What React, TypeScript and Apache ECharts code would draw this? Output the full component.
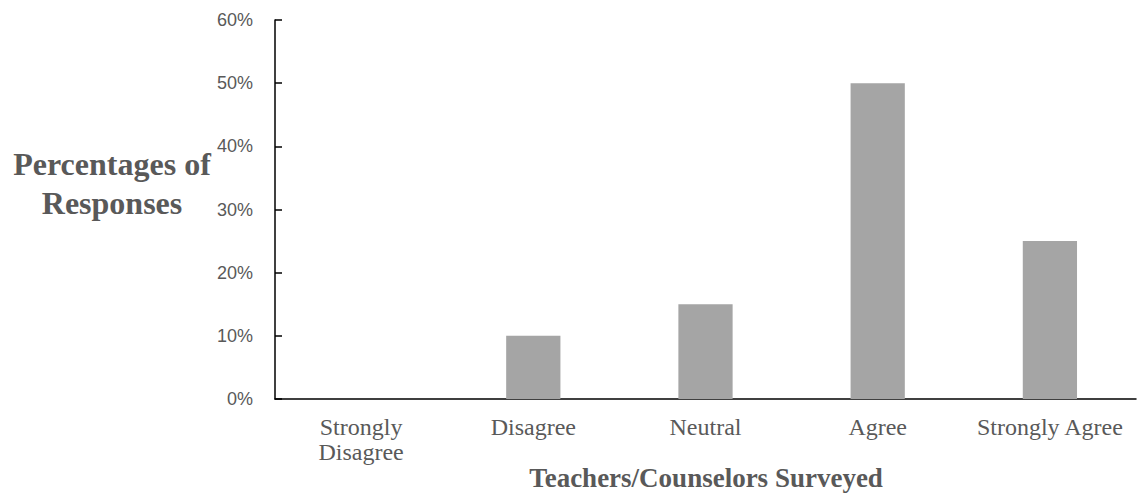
import React, { useEffect, useRef } from "react";
import * as echarts from "echarts";

const categories = ["Strongly Disagree", "Disagree", "Neutral", "Agree", "Strongly Agree"];
const values = [0, 10, 15, 50, 25];
const yTitle = "Percentages of\nResponses";
const xTitle = "Teachers/Counselors Surveyed";

export default function App() {
  const ref = useRef<HTMLDivElement>(null);
  useEffect(() => {
    const chart = echarts.init(ref.current!, null, { renderer: "svg" });
    chart.setOption({
      animation: false,
      grid: { left: 275, right: 1, top: 20, bottom: 98, containLabel: false },
      xAxis: {
        type: "category",
        data: categories,
        axisLine: { lineStyle: { color: "#000", width: 1.5 } },
        axisTick: { show: false },
        axisLabel: {
          interval: 0,
          margin: 15,
          color: "#595959",
          fontFamily: "Liberation Serif",
          fontSize: 24,
          lineHeight: 25,
          formatter: (v: string) => (v === "Strongly Disagree" ? "Strongly\nDisagree" : v),
        },
      },
      yAxis: {
        type: "value",
        min: 0,
        max: 60,
        interval: 10,
        axisLine: { show: true, lineStyle: { color: "#000", width: 1.5 } },
        axisTick: { show: true, inside: true, length: 7, lineStyle: { color: "#000", width: 1.5 } },
        splitLine: { show: false },
        axisLabel: {
          margin: 22,
          color: "#595959",
          fontFamily: "Liberation Sans",
          fontSize: 18,
          formatter: (v: number) => v + "%",
        },
      },
      series: [
        {
          type: "bar",
          data: values,
          barWidth: "31.5%",
          itemStyle: { color: "#A5A5A5" },
        },
      ],
      graphic: [
        {
          type: "text",
          x: 112,
          y: 183,
          style: {
            text: yTitle,
            fill: "#595959",
            font: "bold 32px 'Liberation Serif'",
            align: "center",
            verticalAlign: "middle",
            lineHeight: 39,
          },
        },
        {
          type: "text",
          x: 706,
          y: 478,
          style: {
            text: xTitle,
            fill: "#595959",
            font: "bold 27px 'Liberation Serif'",
            align: "center",
            verticalAlign: "middle",
          },
        },
      ],
    });
    return () => chart.dispose();
  }, []);
  return (
    <div
      ref={ref}
      style={{ position: "fixed", left: 0, top: 0, width: 1137, height: 497, background: "#fff" }}
    />
  );
}
